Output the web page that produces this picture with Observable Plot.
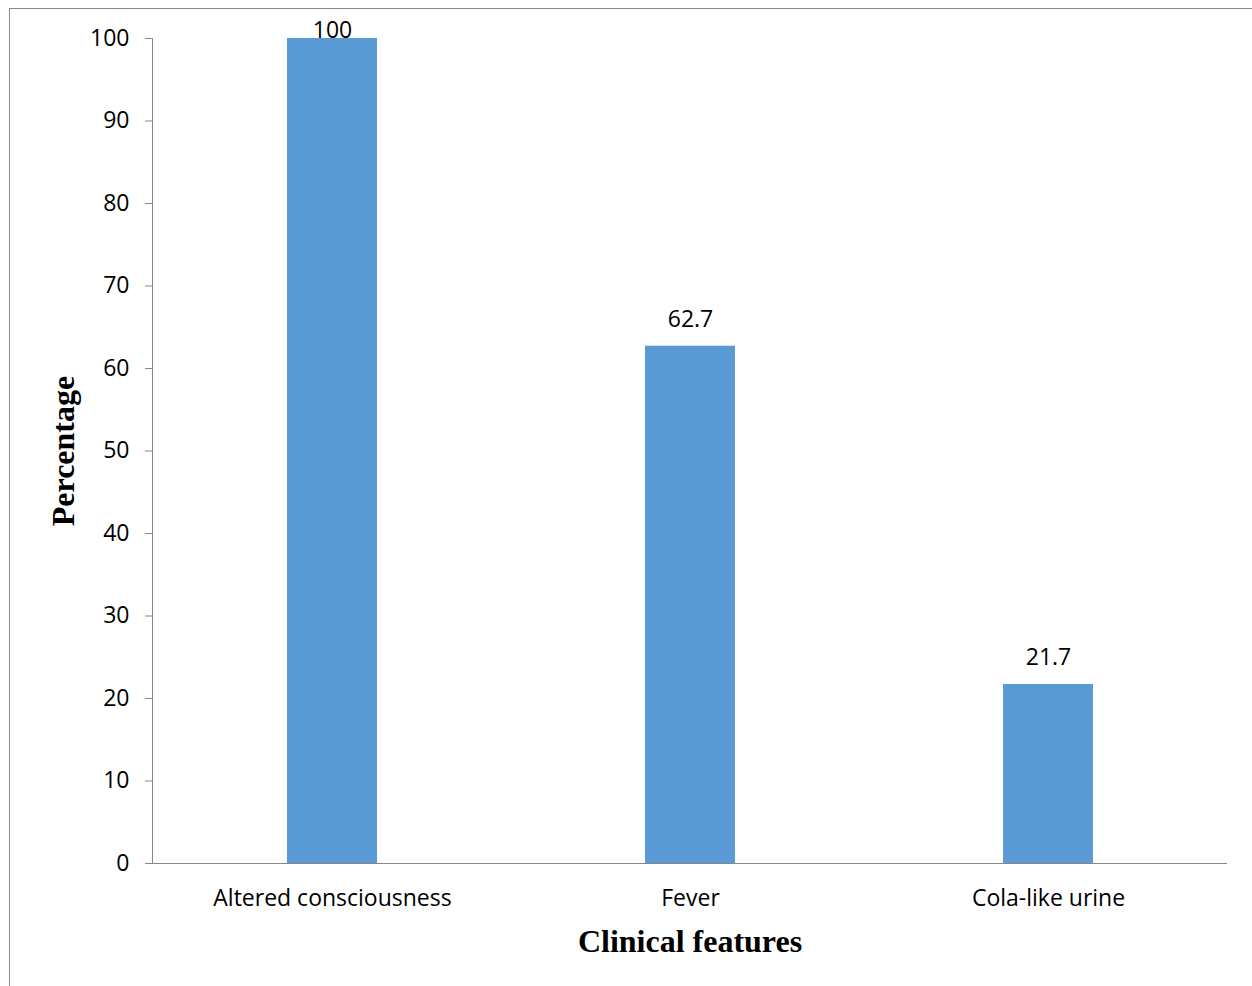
<!DOCTYPE html>
<html>
<head>
<meta charset="utf-8">
<script src="https://cdn.jsdelivr.net/npm/d3@7"></script>
<script src="https://cdn.jsdelivr.net/npm/@observablehq/plot@0.6"></script>
<style>
  html, body { margin: 0; padding: 0; background: #fff; }
  #wrap { position: relative; width: 1252px; height: 986px; overflow: hidden; }
  #edge { position: absolute; left: 9px; top: 8px; right: -5px; bottom: -5px;
          border-top: 1px solid #8a8a8a; border-left: 1px solid #8a8a8a; pointer-events: none; }
  svg { display: block; }
</style>
</head>
<body>
<div id="wrap"><div id="edge"></div></div>
<script>
// Share of patients presenting each clinical feature (%)
const features = ["Altered consciousness", "Fever", "Cola-like urine"];
const percentages = [100, 62.7, 21.7];
const yTicks = [0, 10, 20, 30, 40, 50, 60, 70, 80, 90, 100];

const rows = features.map((feature, i) => ({feature, value: percentages[i]}));

const sans = "'Open Sans', sans-serif";
const serif = "'Liberation Serif', 'Times New Roman', serif";
const fs = 23;

const chart = Plot.plot({
  width: 1252,
  height: 986,
  marginLeft: 152,
  marginRight: 25,
  marginTop: 38,
  marginBottom: 123,
  style: {fontFamily: sans, fontSize: fs + "px", color: "black", background: "white"},
  x: {domain: features, paddingInner: 0.75, paddingOuter: 0.375, label: null},
  y: {domain: [0, 100], label: null},
  marks: [
    Plot.barY(rows, {x: "feature", y: "value", fill: "#5B9BD5"}),
    Plot.frame({anchor: "left", stroke: "#868686"}),
    Plot.ruleY([0], {stroke: "#868686"}),
    Plot.axisY({ticks: yTicks, tickSize: 7, tickPadding: 16, stroke: "#868686", fill: "black", fontSize: fs, label: null}),
    Plot.axisX({tickSize: 0, tickPadding: 26, fill: "black", fontSize: fs, label: null}),
    // value labels above the bars; the full-height bar's label sits snug against the top
    Plot.text(rows.filter(d => d.value < 100), {x: "feature", y: "value", text: d => String(d.value), dy: -27, fontSize: fs, fill: "black"}),
    Plot.text(rows.filter(d => d.value >= 100), {x: "feature", y: "value", text: d => String(d.value), dy: -8, fontSize: fs, fill: "black"}),
    // axis titles
    Plot.text(["Percentage"], {frameAnchor: "left", dx: -89, rotate: -90, textAnchor: "middle", lineAnchor: "middle", fontFamily: serif, fontWeight: "bold", fontSize: 32, fill: "black"}),
    Plot.text(["Clinical features"], {frameAnchor: "bottom", dy: 78, textAnchor: "middle", lineAnchor: "middle", fontFamily: serif, fontWeight: "bold", fontSize: 32, fill: "black"})
  ]
});

document.getElementById("wrap").prepend(chart);
</script>
</body>
</html>
